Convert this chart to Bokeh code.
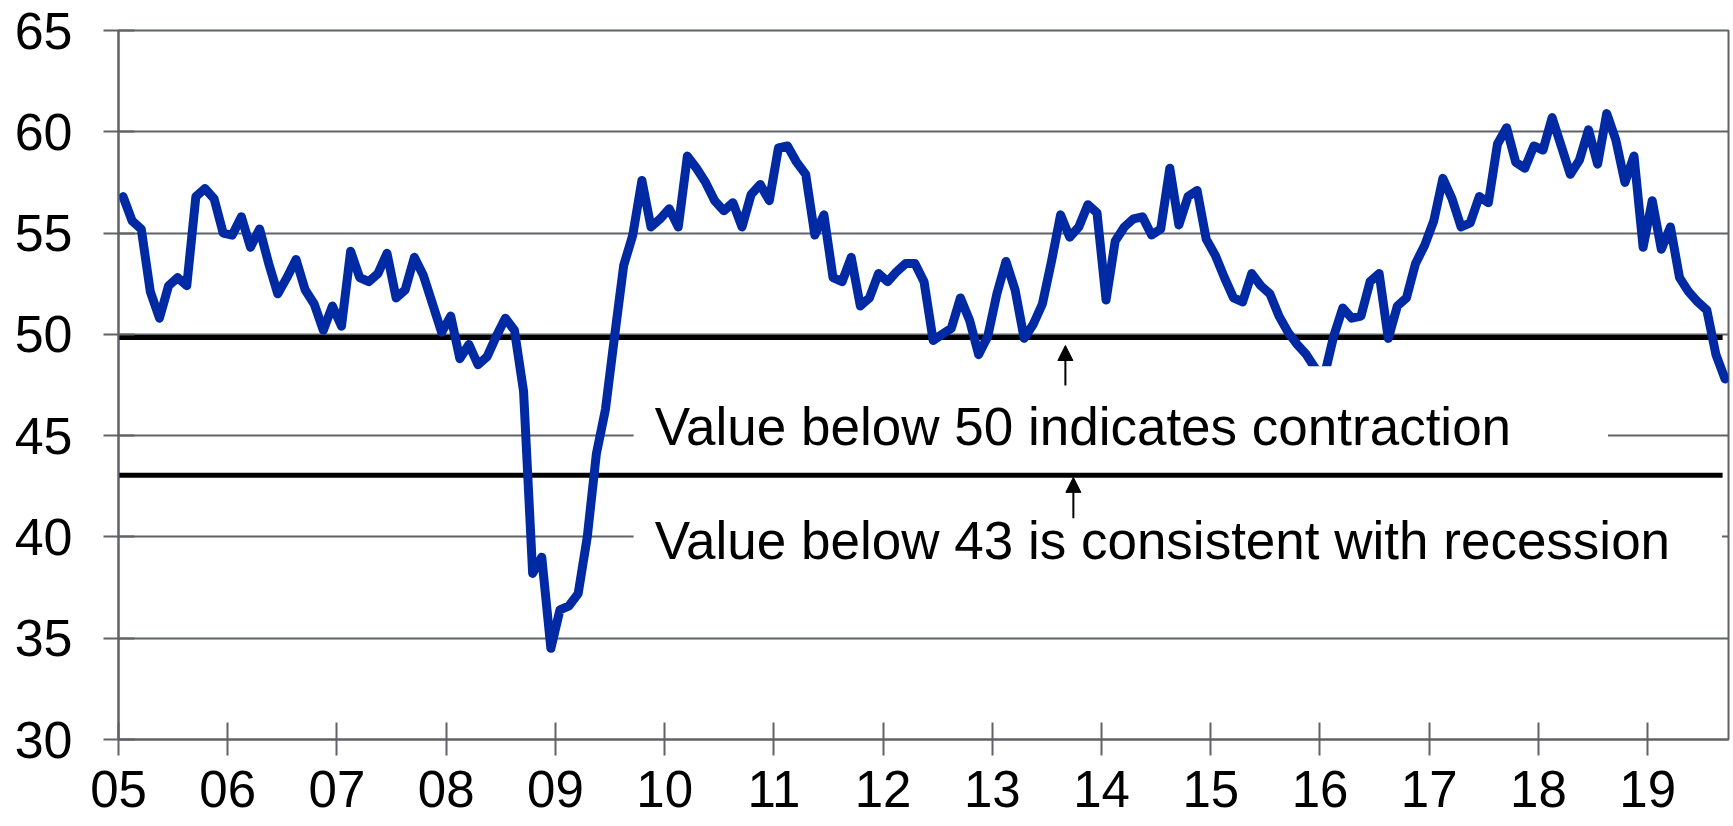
from bokeh.plotting import figure
from bokeh.models import Range1d, FixedTicker, Arrow, NormalHead
from bokeh.embed import file_html
from bokeh.resources import INLINE
from bokeh.core.properties import value

# ---- data (monthly index, Jan 2005 - Sep 2019) ----
start_year = 2005
pmi_2005 = [56.8, 55.6, 55.2, 52.1, 50.8, 52.4, 52.8, 52.4, 56.8, 57.2, 56.7, 55.0]
pmi_2006 = [54.9, 55.8, 54.3, 55.2, 53.5, 52.0, 52.8, 53.7, 52.2, 51.5, 50.2, 51.4]
pmi_2007 = [50.4, 54.1, 52.8, 52.6, 53.0, 54.0, 51.8, 52.2, 53.8, 52.9, 51.5, 50.1]
pmi_2008 = [50.9, 48.8, 49.5, 48.5, 48.9, 49.9, 50.8, 50.2, 47.2, 38.2, 39.0, 34.5]
pmi_2009 = [36.4, 36.6, 37.2, 40.0, 44.1, 46.3, 49.9, 53.4, 54.9, 57.6, 55.3, 55.7]
pmi_2010 = [56.2, 55.3, 58.8, 58.2, 57.5, 56.6, 56.1, 56.5, 55.3, 56.9, 57.4, 56.6]
pmi_2011 = [59.2, 59.3, 58.5, 57.9, 54.9, 55.9, 52.8, 52.6, 53.8, 51.4, 51.8, 53.0]
pmi_2012 = [52.6, 53.1, 53.5, 53.5, 52.6, 49.7, 50.0, 50.3, 51.8, 50.7, 49.0, 49.9]
pmi_2013 = [52.0, 53.6, 52.2, 49.8, 50.5, 51.5, 53.6, 55.9, 54.8, 55.3, 56.4, 56.0]
pmi_2014 = [51.7, 54.6, 55.3, 55.7, 55.8, 54.9, 55.2, 58.2, 55.4, 56.8, 57.1, 54.7]
pmi_2015 = [53.9, 52.8, 51.8, 51.6, 53.0, 52.4, 52.0, 50.9, 50.1, 49.5, 49.0, 48.3]
pmi_2016 = [48.0, 49.9, 51.3, 50.8, 50.9, 52.6, 53.0, 49.8, 51.4, 51.8, 53.5, 54.4]
pmi_2017 = [55.6, 57.7, 56.7, 55.3, 55.5, 56.8, 56.5, 59.4, 60.2, 58.5, 58.2, 59.3]
pmi_2018 = [59.1, 60.7, 59.3, 57.9, 58.6, 60.1, 58.4, 60.9, 59.6, 57.5, 58.8, 54.3]
pmi_2019 = [56.6, 54.2, 55.3, 52.8, 52.1, 51.6, 51.2, 49.0, 47.8]

tick_years = list(range(2005, 2020))
tick_labels = ["05", "06", "07", "08", "09", "10", "11", "12", "13", "14",
               "15", "16", "17", "18", "19"]
y_ticks = [30, 35, 40, 45, 50, 55, 60, 65]

contraction_level = 49.85
recession_level = 43.05
note_contraction = "Value below 50 indicates contraction"
note_recession = "Value below 43 is consistent with recession"

# ---- assemble series ----
pmi = (pmi_2005 + pmi_2006 + pmi_2007 + pmi_2008 + pmi_2009 + pmi_2010 +
       pmi_2011 + pmi_2012 + pmi_2013 + pmi_2014 + pmi_2015 + pmi_2016 +
       pmi_2017 + pmi_2018 + pmi_2019)
xs = [start_year + (k + 0.5) / 12.0 for k in range(len(pmi))]

GRID = "#5f6266"
BLUE = "#002aa3"
FONT = "Liberation Sans"

p = figure(width=1730, height=825,
           x_range=Range1d(2005, 2019.74), y_range=Range1d(30, 65),
           output_backend="svg", toolbar_location=None,
           min_border_left=118, min_border_right=2,
           min_border_top=30, min_border_bottom=86)
p.background_fill_color = "white"
p.border_fill_color = "white"
p.outline_line_color = GRID
p.outline_line_width = 2

p.xgrid.visible = False
p.ygrid.ticker = FixedTicker(ticks=y_ticks)
p.ygrid.grid_line_color = GRID
p.ygrid.grid_line_width = 2

p.xaxis.ticker = FixedTicker(ticks=tick_years)
p.xaxis.major_label_overrides = {y: l for y, l in zip(tick_years, tick_labels)}
p.yaxis.ticker = FixedTicker(ticks=y_ticks)

for ax in (p.xaxis[0], p.yaxis[0]):
    ax.axis_line_color = GRID
    ax.axis_line_width = 2
    ax.major_tick_line_color = GRID
    ax.major_tick_line_width = 2
    ax.minor_tick_line_color = None
    ax.major_label_text_font = FONT
    ax.major_label_text_color = "black"

p.xaxis.major_label_text_font_size = "51px"
p.yaxis.major_label_text_font_size = "52px"
p.xaxis.major_tick_in = 17
p.xaxis.major_tick_out = 16
p.xaxis.major_label_standoff = 15
p.yaxis.major_tick_in = 16
p.yaxis.major_tick_out = 15
p.yaxis.major_label_standoff = 31

# threshold lines
p.segment(x0=[2005, 2005], y0=[contraction_level, recession_level],
          x1=[2019.686, 2019.686], y1=[contraction_level, recession_level],
          line_color="black", line_width=5)

# PMI line
p.line(xs, pmi, line_color=BLUE, line_width=9, line_join="round", line_cap="round")

# white text boxes (drawn over the series, as in the original)
p.quad(left=[2009.716, 2009.716], right=[2018.637, 2019.68],
       top=[48.43, 42.3], bottom=[44.1, 37.4],
       fill_color="white", line_color=None)

p.text(x=[2009.909, 2009.909], y=[45.45, 39.80],
       text=[note_contraction, note_recession],
       text_font=value(FONT), text_font_size="53px",
       text_baseline="alphabetic", text_align="left", text_color="black")

p.add_layout(Arrow(end=NormalHead(size=15, fill_color="black", line_color="black"),
                   x_start=2013.669, y_start=47.48, x_end=2013.669, y_end=49.45,
                   line_color="black", line_width=2))
p.add_layout(Arrow(end=NormalHead(size=15, fill_color="black", line_color="black"),
                   x_start=2013.742, y_start=40.92, x_end=2013.742, y_end=42.94,
                   line_color="black", line_width=2))

open("out.html", "w").write(file_html(p, INLINE))
